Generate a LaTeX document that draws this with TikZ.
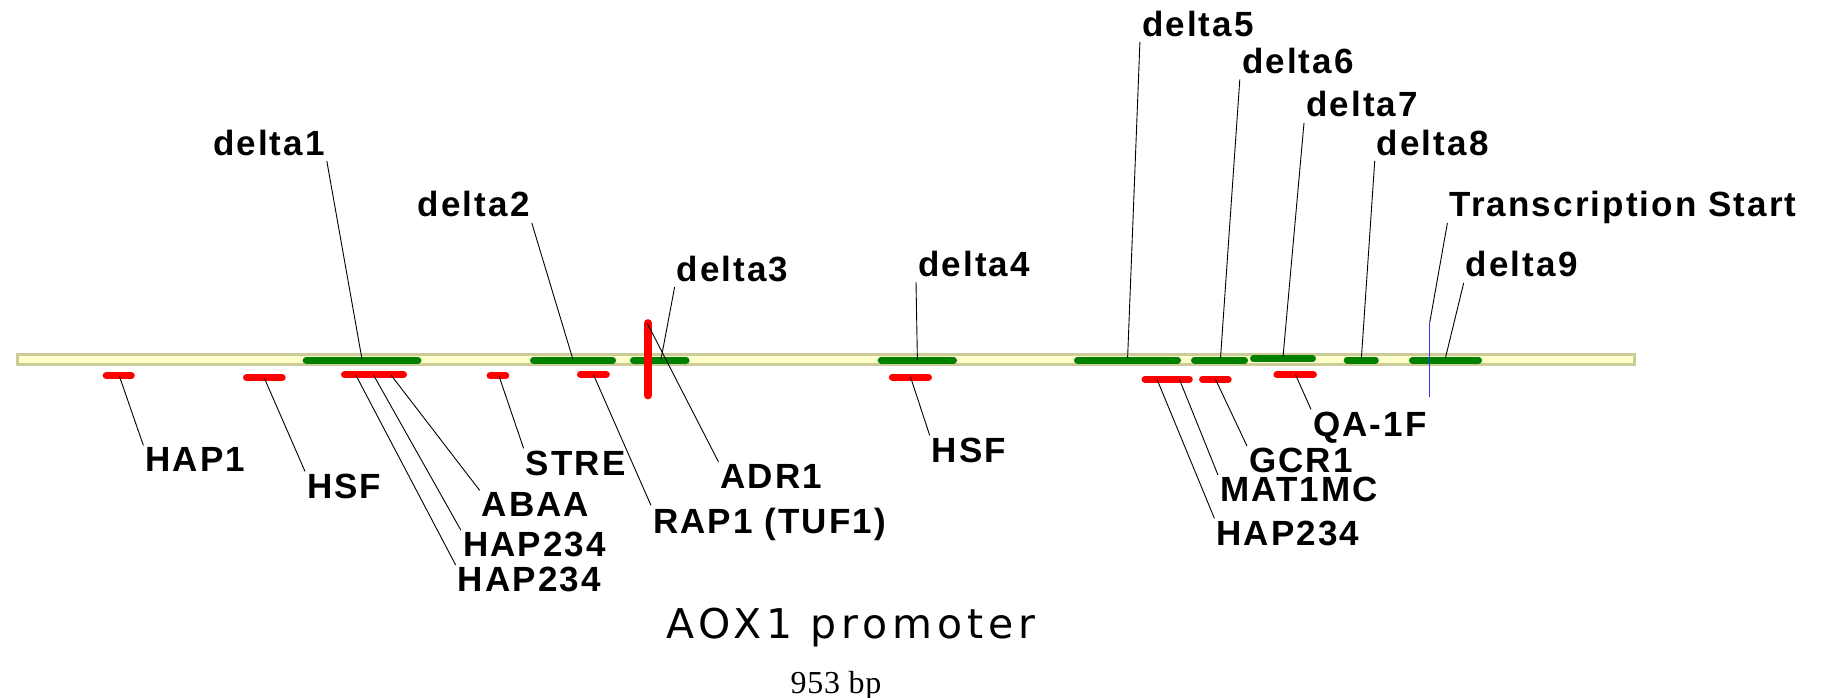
\documentclass[tikz,border=0pt]{standalone}
\usepackage{fontspec}
\newfontfamily\lblfont{Liberation Sans}[LetterSpace=6]
\newfontfamily\titlefont{DejaVu Sans}[LetterSpace=12]
\newfontfamily\bpfont{Liberation Serif}[LetterSpace=2]
\definecolor{bargreen}{HTML}{008000}
\definecolor{barfill}{HTML}{FFFFCC}
\definecolor{barline}{HTML}{CCCC99}
\definecolor{tsblue}{HTML}{3333FF}
\begin{document}
\begin{tikzpicture}[x=1pt,y=-1pt,
  lbl/.style={inner sep=2pt, text depth=4pt, anchor=base west,
    font=\lblfont\bfseries\fontsize{35}{40}\selectfont},
  conn/.style={draw=black, line width=0.9pt},
  gbar/.style={draw=bargreen, line width=7pt, line cap=round},
  rbar/.style={draw=red, line width=7pt, line cap=round},
]
\useasboundingbox (0,0) rectangle (1825,697);
% promoter bar
\draw[draw=barline, fill=barfill, line width=2.5pt] (17.3,354.6) rectangle (1634.7,364.4);
% green deletion regions
\draw[gbar] (306.2,360.3) -- (417.9,360.3);
\draw[gbar] (533.5,360.3) -- (612.5,360.3);
\draw[gbar] (633.5,360.3) -- (686,360.3);
\draw[gbar] (881.2,360) -- (953.5,360);
\draw[gbar] (1077.5,360) -- (1177.5,360);
\draw[gbar] (1194.5,360) -- (1244.5,360);
\draw[gbar] (1253.5,358.7) -- (1312.5,358.7);
\draw[gbar] (1347.2,360) -- (1375.3,360);
\draw[gbar] (1412.5,360) -- (1478.5,360);
% red binding sites
\draw[rbar] (106.2,375.7) -- (131.3,375.7);
\draw[rbar] (246.5,377.7) -- (282.2,377.7);
\draw[rbar] (344.5,374.7) -- (367.5,374.7);
\draw[rbar] (360.5,374.7) -- (386.5,374.7);
\draw[rbar] (377.5,374.7) -- (403.5,374.7);
\draw[rbar] (490.1,375.7) -- (505.8,375.7);
\draw[rbar] (580.5,374.3) -- (606.3,374.3);
\draw[rbar, line width=7.7pt] (647.8,323) -- (647.8,395.5);
\draw[rbar] (892.3,377) -- (928.5,377);
\draw[rbar] (1145,379.3) -- (1169,379.3);
\draw[rbar] (1163,379.3) -- (1189.3,379.3);
\draw[rbar] (1202.5,379.3) -- (1228.2,379.3);
\draw[rbar] (1276.9,374.7) -- (1313.4,374.7);
% transcription start
\coordinate (tsTop) at (1429.7,322.7);
\coordinate (tsBot) at (1429.7,396.7);
\draw[tsblue, line width=1pt] (tsTop) -- (tsBot);
% anchor points on the bar
\coordinate (d1) at (362,359.3);
\coordinate (d2) at (572.9,359.3);
\coordinate (d3) at (661,359.3);
\coordinate (d4) at (917.4,360);
\coordinate (d5) at (1127.6,358);
\coordinate (d6) at (1220.5,358);
\coordinate (d7) at (1283,357);
\coordinate (d8) at (1361.4,358);
\coordinate (d9) at (1445.4,358);
\coordinate (cHAP1) at (119.5,376.5);
\coordinate (cHSF) at (264.3,378);
\coordinate (cHAPb) at (355.8,375);
\coordinate (cHAPm) at (373.5,375);
\coordinate (cABAA) at (391,375);
\coordinate (cSTRE) at (499,376);
\coordinate (cRAP1) at (593.6,375);
\coordinate (cADR1) at (647.3,323.3);
\coordinate (cHSF2) at (910.5,377);
\coordinate (cHAPr) at (1157,379.3);
\coordinate (cMAT) at (1179.4,379.3);
\coordinate (cGCR1) at (1215.5,379.3);
\coordinate (cQA) at (1295.5,374.7);
% upper labels
\node[lbl] (ld1) at (210.8,155) {delta1};
\node[lbl] (ld2) at (415.7,216.7) {delta2};
\node[lbl] (ld3) at (674.6,281) {delta3};
\node[lbl] (ld4) at (916,276) {delta4};
\node[lbl] (ld5) at (1139.9,36) {delta5};
\node[lbl] (ld6) at (1239.8,73.3) {delta6};
\node[lbl] (ld7) at (1304,116.7) {delta7};
\node[lbl] (ld8) at (1374.7,155) {delta8};
\node[lbl] (lTS) at (1447.4,216.7) {Transcription Start};
\node[lbl] (ld9) at (1463.7,276.7) {delta9};
% lower labels
\node[lbl] (lHAP1) at (143.4,471.7) {HAP1};
\node[lbl] (lHSF) at (305,498) {HSF};
\node[lbl] (lHAPb) at (455.7,591.7) {HAP234};
\node[lbl] (lHAPm) at (460.8,556.7) {HAP234};
\node[lbl] (lABAA) at (479.7,516.7) {ABAA};
\node[lbl] (lSTRE) at (523.6,475) {STRE};
\node[lbl] (lRAP1) at (651,533) {RAP1 (TUF1)};
\node[lbl] (lADR1) at (718.4,488) {ADR1};
\node[lbl] (lHSF2) at (929.7,462) {HSF};
\node[lbl] (lHAPr) at (1214.4,545) {HAP234};
\node[lbl] (lMAT) at (1218,501.7) {MAT1MC};
\node[lbl] (lGCR1) at (1247,472.7) {GCR1};
\node[lbl] (lQA) at (1311,436) {QA-1F};
% connectors
\draw[conn] (ld1.south east) -- (d1);
\draw[conn] (ld2.south east) -- (d2);
\draw[conn] (ld3.south west) -- (d3);
\draw[conn] (ld4.south west) -- (d4);
\draw[conn] (ld5.south west) -- (d5);
\draw[conn] (ld6.south west) -- (d6);
\draw[conn] (ld7.south west) -- (d7);
\draw[conn] (ld8.south west) -- (d8);
\draw[conn] (lTS.south west) -- (tsTop);
\draw[conn] (ld9.south west) -- (d9);
\draw[conn] (cHAP1) -- (lHAP1.north west);
\draw[conn] (cHSF) -- (lHSF.north west);
\draw[conn] (cHAPb) -- (lHAPb.north west);
\draw[conn] (cHAPm) -- (lHAPm.north west);
\draw[conn] (cABAA) -- (lABAA.north west);
\draw[conn] (cSTRE) -- (lSTRE.north west);
\draw[conn] (cRAP1) -- (lRAP1.north west);
\draw[conn] (cADR1) -- (lADR1.north west);
\draw[conn] (cHSF2) -- (lHSF2.north west);
\draw[conn] (cHAPr) -- (lHAPr.north west);
\draw[conn] (cMAT) -- (lMAT.north west);
\draw[conn] (cGCR1) -- (lGCR1.north west);
\draw[conn] (cQA) -- (lQA.north west);
% titles
\node[anchor=base, inner sep=0pt, font=\titlefont\fontsize{41}{48}\selectfont] (title) at (851,638.3) {AOX1 promoter};
\node[anchor=base, inner sep=0pt, font=\bpfont\fontsize{32}{38}\selectfont] (bp) at (836,693.3) {953 bp};
\end{tikzpicture}
\end{document}
